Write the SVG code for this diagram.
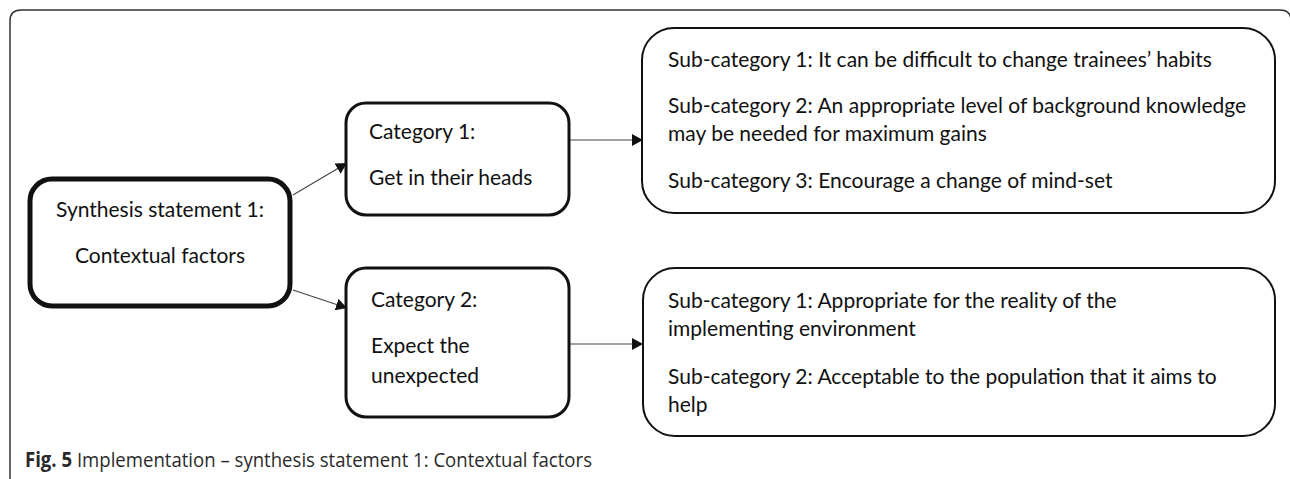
<svg xmlns="http://www.w3.org/2000/svg" width="1290" height="479" viewBox="0 0 1290 479">
<style>
.t{font-family:Lato,"Open Sans","Liberation Sans",sans-serif;font-size:21px;fill:#111}
.cap{font-family:"Open Sans","Liberation Sans",sans-serif;font-size:20.5px;fill:#2a2a2a}
.box{fill:#fff;stroke:#111;stroke-width:3}
.sub{fill:#fff;stroke:#111;stroke-width:2}
.conn{stroke:#444;stroke-width:1.2;fill:none;marker-end:url(#ah)}
</style>
<defs>
<marker id="ah" viewBox="0 0 11 12" refX="11" refY="6" markerWidth="11" markerHeight="12" markerUnits="userSpaceOnUse" orient="auto">
<path d="M0,0 L11,6 L0,12 z" fill="#111"/>
</marker>
</defs>
<rect width="1290" height="479" fill="#fff"/>
<path id="frame" d="M10,479 V21 Q10,10 21,10 H1280 Q1291,10 1291,21 V479" fill="none" stroke="#333" stroke-width="1.5"/>
<g id="connectors">
<line class="conn" x1="293" y1="195" x2="347" y2="163"/>
<line class="conn" x1="293" y1="290" x2="347" y2="308"/>
<line class="conn" x1="569" y1="140" x2="643" y2="140"/>
<line class="conn" x1="569" y1="344" x2="643" y2="344"/>
</g>
<g id="synthesis">
<rect x="30" y="179" width="260" height="127" rx="22" fill="#fff" stroke="#111" stroke-width="5"/>
<text class="t" x="160" y="217" text-anchor="middle">Synthesis statement 1:</text>
<text class="t" x="160" y="263" text-anchor="middle">Contextual factors</text>
</g>
<g id="category1">
<rect class="box" x="346" y="103" width="223" height="112" rx="20"/>
<text class="t" x="369" y="139">Category 1:</text>
<text class="t" x="369" y="185">Get in their heads</text>
</g>
<g id="category2">
<rect class="box" x="346" y="268" width="223" height="149" rx="20"/>
<text class="t" x="371" y="307">Category 2:</text>
<text class="t" x="371" y="353">Expect the</text>
<text class="t" x="371" y="383">unexpected</text>
</g>
<g id="sub1">
<rect class="sub" x="642" y="28" width="633" height="185" rx="32"/>
<text class="t" x="668" y="67">Sub-category 1: It can be difficult to change trainees’ habits</text>
<text class="t" x="668" y="113">Sub-category 2: An appropriate level of background knowledge</text>
<text class="t" x="668" y="141">may be needed for maximum gains</text>
<text class="t" x="668" y="188">Sub-category 3: Encourage a change of mind-set</text>
</g>
<g id="sub2">
<rect class="sub" x="643" y="268" width="632" height="168" rx="32"/>
<text class="t" x="668" y="308">Sub-category 1: Appropriate for the reality of the</text>
<text class="t" x="668" y="336">implementing environment</text>
<text class="t" x="668" y="384">Sub-category 2: Acceptable to the population that it aims to</text>
<text class="t" x="668" y="412">help</text>
</g>
<text class="cap" x="25" y="467" textLength="567" lengthAdjust="spacingAndGlyphs"><tspan font-weight="bold">Fig. 5</tspan> Implementation – synthesis statement 1: Contextual factors</text>
</svg>
